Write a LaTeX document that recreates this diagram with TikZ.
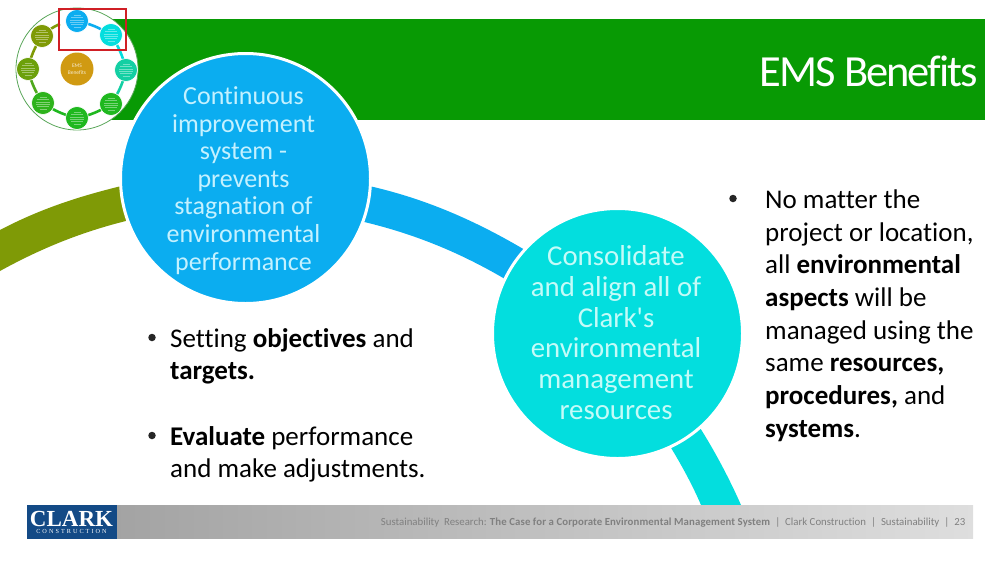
\documentclass[tikz,border=0pt]{standalone}
\usepackage{fontspec}
\setmainfont{Carlito}[Ligatures={NoCommon,TeXOff}]
\newfontfamily\logofont{Liberation Serif}
\usepackage{xcolor}
\definecolor{bannergreen}{HTML}{089A04}
\definecolor{skyblue}{HTML}{0BADF0}
\definecolor{aquablue}{HTML}{03DEDE}
\definecolor{paleblue}{HTML}{C4F1FF}
\definecolor{paleaqua}{HTML}{C4FBF8}
\definecolor{olivegreen}{HTML}{7F9A06}
\definecolor{tealgreen}{HTML}{13CFA3}
\definecolor{leafgreen}{HTML}{1FB81F}
\definecolor{midgreen}{HTML}{4FA81C}
\definecolor{amberdisc}{HTML}{D09A12}
\definecolor{clarkblue}{HTML}{134A86}
\definecolor{footertext}{HTML}{808080}
\definecolor{framered}{HTML}{D01F25}
\newcommand{\footbar}{\hspace{5pt}|\hspace{5pt}}
\tikzset{
  discnode/.style={circle, minimum size=250pt, inner sep=0pt, draw=white, line width=3pt, align=center},
  smalldisc/.style={circle, minimum size=23pt, inner sep=0pt, draw=white, line width=.6pt},
  thumbband/.style={line width=2.6pt, bend left=10},
  bodytext/.style={anchor=north west, inner sep=0pt, align=left, font=\fontsize{27}{32.7}\selectfont},
  bulletmark/.style={anchor=center, circle, fill=black!85, minimum size=7.5pt, inner sep=0pt},
  footer/.style={anchor=east, inner sep=0pt, text=footertext, font=\fontsize{10.8}{12}\selectfont}
}
\begin{document}
\begin{tikzpicture}[x=1pt, y=-1pt]
    \useasboundingbox (0,0) rectangle (1000,563);
    % banner
    \fill[bannergreen] (105,19) rectangle (985,119.5);
    \node[anchor=east, inner sep=0pt, text=white, font=\fontsize{44.5}{50}\selectfont] (title) at (978,71) {\addfontfeature{LetterSpace=-4.5}EMS Benefits};
    % big ring segments
    \fill[olivegreen] (0,230) .. controls (38,210) and (78,196) .. (130,184) -- (130,220) .. controls (80,232) and (38,250) .. (0,271) -- cycle;
    \fill[skyblue] (360,184) .. controls (418,196) and (472,218) .. (530,253) -- (510,282) .. controls (460,252) and (412,233) .. (360,221) -- cycle;
    \fill[aquablue] (695,420) .. controls (714,449) and (730,480) .. (741,505) -- (701,505) .. controls (692,484) and (680,462) .. (665,438) -- cycle;
    \node[discnode, fill=skyblue] (improve) at (245.5,178.5) {};
    \node[discnode, fill=aquablue] (consolidate) at (617.5,333.5) {};
    \node[align=center, inner sep=0pt, text=paleblue, font=\fontsize{26}{27.6}\selectfont] (improvetext) at (243.5,180.5) {Continuous\\improvement\\system -\\prevents\\stagnation of\\environmental\\performance};
    \node[align=center, inner sep=0pt, text=paleaqua, font=\fontsize{28.8}{30.8}\selectfont] (consolidatetext) at (616,332.5) {Consolidate\\and align all of\\Clark's\\environmental\\management\\resources};
    % footer
    \shade[left color=black!36, right color=black!13] (116,505) rectangle (973,538.5);
    \node[fill=clarkblue, minimum width=90pt, minimum height=33.5pt, inner sep=0pt] (logo) at (71.5,521.75) {};
    \node[inner sep=0pt, text depth=0pt, text=white, font=\logofont\bfseries\fontsize{23}{23}\selectfont] (clark) at (71.5,519) {CLARK};
    \node[inner sep=0pt, text=white, font=\logofont\fontsize{6.2}{6.5}\selectfont] (construction) at (71.5,531) {\addfontfeature{LetterSpace=33}CONSTRUCTION};
    \node[footer] (footerline) at (965.5,523) {Sustainability\ \ Research: {\bfseries\addfontfeature{LetterSpace=1}The Case for a Corporate Environmental Management System}\footbar Clark Construction\footbar Sustainability\footbar 23};
    % bullets
    \node[bulletmark] (bulleta) at (152,337.5) {};
    \node[bodytext] (bulletatext) at (170,328) {Setting \textbf{objectives} and\\\textbf{targets.}};
    \node[bulletmark] (bulletb) at (152,435.5) {};
    \node[bodytext] (bulletbtext) at (170,426) {\textbf{Evaluate} performance\\and make adjustments.};
    \node[bulletmark] (bulletc) at (733,198.5) {};
    \node[bodytext] (bulletctext) at (765,189.5) {No matter the\\project or location,\\all \textbf{environmental}\\\textbf{aspects} will be\\managed using the\\same \textbf{resources,}\\\textbf{procedures,} and\\\textbf{systems}.};
    % thumbnail
    \draw[gray!70!green, line width=.8pt, fill=white] (77,69) circle (61);
    \draw[skyblue, thumbband] (77,21) to (111,35);
    \draw[aquablue, thumbband] (111,35) to (126,70);
    \draw[tealgreen, thumbband] (126,70) to (111,104);
    \draw[leafgreen, thumbband] (111,104) to (77,118);
    \draw[leafgreen, thumbband] (77,118) to (43,103);
    \draw[midgreen, thumbband] (43,103) to (28,69);
    \draw[olivegreen, thumbband] (28,69) to (42,36);
    \draw[olivegreen, thumbband] (42,36) to (60,24);
    \foreach \dname/\dx/\dy/\dcol in {t1/77/21/skyblue, t2/111/35/aquablue, t3/126/70/tealgreen, t4/111/104/leafgreen, t5/77/118/leafgreen, t6/43/103/leafgreen!85!olivegreen, t7/28/69/olivegreen!80!leafgreen, t8/42/36/olivegreen} {
        \node[smalldisc, fill=\dcol] (\dname) at (\dx,\dy) {};
        % unreadable small print in the discs
        \foreach \ly/\lw in {-6/3.5, -3.6/6, -1.2/7, 1.2/7, 3.6/6, 6/3.5}
            \draw[white, opacity=.4, line width=.6pt] (\dx-\lw,\dy+\ly) -- (\dx+\lw,\dy+\ly);
    }
    \node[circle, minimum size=33pt, inner sep=0pt, fill=amberdisc, text=white!80!amberdisc, align=center, font=\fontsize{5.5}{7}\selectfont] (center) at (77,69) {EMS\\Benefits};
    \draw[framered, line width=2.2pt] (59,9) rectangle (126,50);
\end{tikzpicture}
\end{document}
